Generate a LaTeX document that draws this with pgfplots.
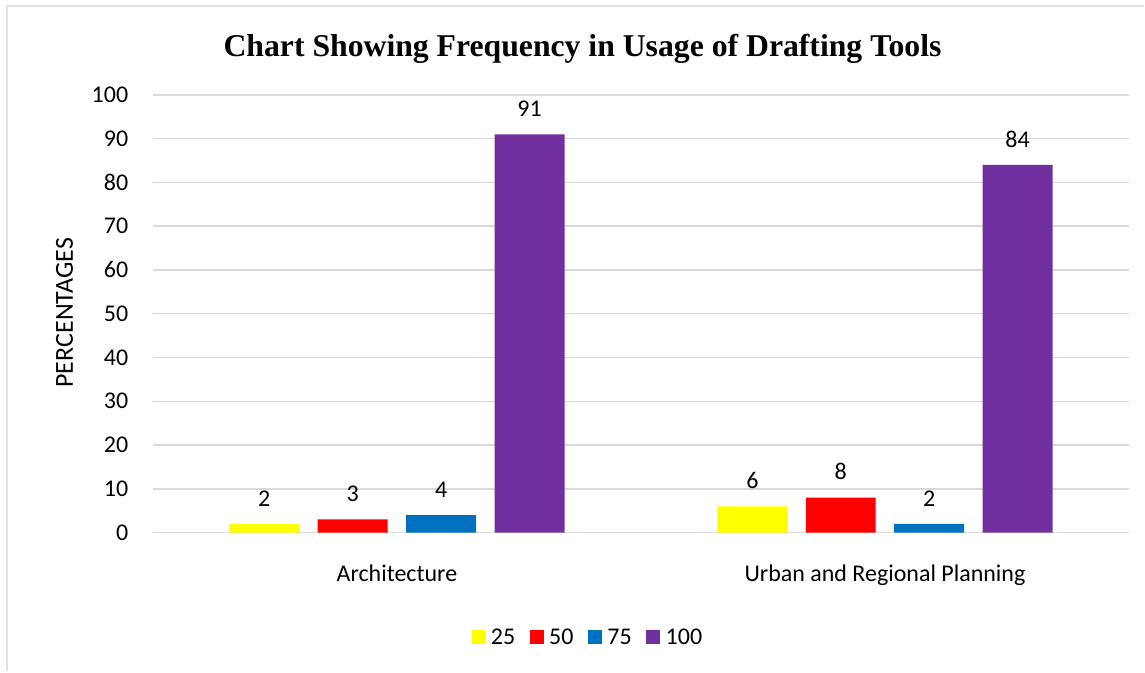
\documentclass[border=0pt]{standalone}
\usepackage{fontspec}
\setmainfont{Carlito}
\newfontfamily\titlefont{Liberation Serif}
\usepackage{pgfplots}
\pgfplotsset{compat=1.18}
\definecolor{cyel}{HTML}{FFFF00}
\definecolor{cred}{HTML}{FF0000}
\definecolor{cblue}{HTML}{0070C0}
\definecolor{cpurp}{HTML}{7030A0}
\definecolor{cgrid}{HTML}{D9D9D9}
\begin{document}
\begin{tikzpicture}
\path (0,0) rectangle (858.75pt,-504pt);
\draw[color=cgrid!80, line width=1.5pt] (5pt,-504pt) -- (5pt,-4.5pt) -- (858.75pt,-4.5pt);
\node[font=\titlefont\bfseries\fontsize{23.8pt}{28pt}\selectfont] at (437.25pt,-36.5pt) {Chart Showing Frequency in Usage of Drafting Tools};
\node[rotate=90, font=\fontsize{19.5pt}{22pt}\selectfont] at (48.5pt,-234.75pt) {PERCENTAGES};
\begin{axis}[
  at={(114.75pt,-399.75pt)}, anchor=south west,
  scale only axis, width=732.75pt, height=328.5pt,
  /pgf/number format/assume math mode=true,
  ybar=13.875pt, bar width=52.5pt,
  xmin=-0.5, xmax=1.5, ymin=0, ymax=100,
  xtick={0,1}, xticklabels={Architecture, Urban and Regional Planning},
  ytick={0,10,...,100},
  major tick length=0pt,
  axis line style={draw=none},
  ymajorgrids, grid style={color=cgrid, line width=1.1pt},
  tick label style={font=\fontsize{18pt}{21pt}\selectfont, color=black},
  xticklabel style={yshift=-20.5pt},
  yticklabel style={xshift=-15pt},
  nodes near coords,
  every node near coord/.append style={font=\fontsize{18pt}{21pt}\selectfont, color=black, yshift=9.5pt},
  legend style={at={(0.446,-0.2397)}, anchor=center, draw=none, legend columns=-1,
    font=\fontsize{18pt}{21pt}\selectfont,
    /tikz/every even column/.append style={column sep=9pt},
    /tikz/every odd column/.append style={column sep=2pt}},
  legend image code/.code={\fill[#1] (0pt,-5.25pt) rectangle (10.5pt,5.25pt);},
]
\addplot[fill=cyel, draw=none] coordinates {(0,2) (1,6)};
\addplot[fill=cred, draw=none] coordinates {(0,3) (1,8)};
\addplot[fill=cblue, draw=none] coordinates {(0,4) (1,2)};
\addplot[fill=cpurp, draw=none] coordinates {(0,91) (1,84)};
\legend{25,50,75,100}
\end{axis}
\end{tikzpicture}
\end{document}
